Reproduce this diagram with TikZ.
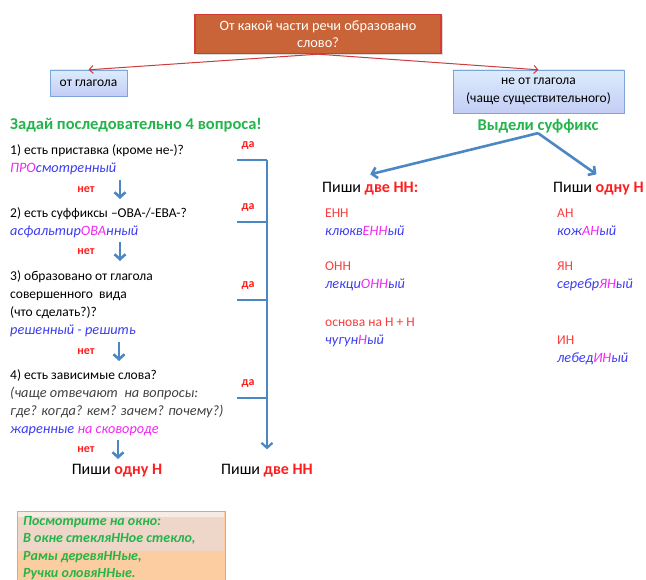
\documentclass[tikz,border=0pt]{standalone}
\usepackage{fontspec}
\setmainfont{Carlito}
\usepackage{xcolor}
\usetikzlibrary{positioning, arrows.meta, shadows}

\definecolor{boxred}{RGB}{200,100,55}
\definecolor{boxedge}{RGB}{210,60,50}
\definecolor{arrred}{RGB}{205,60,60}
\definecolor{skytop}{RGB}{220,236,252}
\definecolor{skybot}{RGB}{195,205,245}
\definecolor{skyedge}{RGB}{125,165,215}
\definecolor{leaf}{RGB}{35,180,75}
\definecolor{steel}{RGB}{75,135,195}
\definecolor{exblue}{RGB}{60,60,240}
\definecolor{exmag}{RGB}{240,40,240}
\definecolor{lab}{RGB}{255,30,30}
\definecolor{sfx}{RGB}{250,60,60}
\definecolor{peach}{RGB}{252,205,160}
\definecolor{peachtop}{RGB}{238,214,200}
\definecolor{peachedge}{RGB}{245,160,100}

\tikzset{
  txt/.style={font=\fontsize{13.5}{18}\selectfont},
  big/.style={font=\fontsize{16}{18}\selectfont},
  head/.style={font=\fontsize{16.5}{18}\selectfont\bfseries, text=leaf},
  lbl/.style={font=\fontsize{12}{13}\selectfont\bfseries, text=lab},
  skybox/.style={draw=skyedge, top color=skytop, bottom color=skybot, align=center, txt},
  redarr/.style={draw=arrred, line width=1pt, -{Straight Barb[length=4pt,width=8pt]}},
  bluearr/.style={draw=steel, line width=2.6pt, -{Straight Barb[length=5pt,width=11pt]}}
}
\newcommand{\ex}[2]{{\fontsize{14.3}{18}\selectfont\itshape\color{exblue}#1\color{exmag}#2}}

\begin{document}
\begin{tikzpicture}[x=1pt, y=-1pt, every node/.style={inner sep=0pt}]
            \useasboundingbox (0,0) rectangle (646,580);

            % top question and the two branches
            \node[draw=boxedge, line width=1.4pt, fill=boxred, text=white, align=center,
                  minimum width=246pt, minimum height=39pt, font=\fontsize{14.3}{17}\selectfont,
                  drop shadow={shadow xshift=1.5pt, shadow yshift=-2pt, opacity=0.3}]
                 (q) at (318,34) {От какой части речи образовано\\слово?};
            \node[skybox, minimum width=77pt, minimum height=26pt] (verb) at (88.5,83) {от глагола};
            \node[skybox, minimum width=171pt, minimum height=43pt] (noverb) at (538.5,91.5)
                 {не от глагола\\(чаще существительного)};
            \draw[redarr] (q.south) -- (verb.north);
            \draw[redarr] (q.south) -- (noverb.north);

            \node[head, anchor=west] (ask) at (10,125) {Задай последовательно 4 вопроса!};
            \node[head] (suf) at (538,126) {Выдели суффикс};

            % left: four questions
            \node[txt, anchor=west, align=left] (q1) at (10,159.5)
                 {1) есть приставка (кроме не-)?\\\ex{}{ПРО}\ex{смотренный}{}};
            \node[txt, anchor=west, align=left] (q2) at (10,223)
                 {2) есть суффиксы –ОВА-/-ЕВА-?\\\ex{асфальтир}{ОВА}\ex{нный}{}};
            \node[txt, anchor=west, align=left] (q3) at (10,303.5)
                 {3) образовано от глагола\\совершенного~ вида\\(что сделать?)?\\\ex{решенный - решить}{}};
            \node[txt, anchor=west, align=left] (q4) at (10,402.5)
                 {4) есть зависимые слова?\\{\fontsize{14.3}{18}\selectfont\itshape\color{black!75}(чаще отвечают~ на вопросы:}\\{\fontsize{14.3}{18}\selectfont\itshape\color{black!75}где? когда? кем? зачем? почему?)}\\\ex{жаренные }{на сковороде}};

            \foreach \y/\x/\n in {180/120/1, 242/120/2, 342/119/3, 440/118/4} {
                \node[lbl] (no\n) at (86,\y+10) {нет};
                \coordinate (a\n) at (\x,\y);
                \coordinate (b\n) at (\x,\y+19);
                \draw[bluearr] (a\n) -- (b\n);
            }

            % bracket of yes-answers
            \foreach \y/\n in {160/1, 222/2, 300/3, 398/4} {
                \node[lbl] (yes\n) at (248,\y-14) {да};
                \coordinate (t\n) at (237,\y);
                \coordinate (v\n) at (267,\y);
                \draw[steel, line width=2.2pt] (t\n) -- (v\n);
            }
            \node[big] (oneL) at (117,471) {Пиши {\bfseries\color{lab}одну Н}};
            \node[big] (twoL) at (267,471) {Пиши {\bfseries\color{lab}две НН}};
            \draw[bluearr, line width=2.2pt, shorten >=15pt] (v1) -- (twoL.north);

            % right: suffixes
            \node[big, anchor=west] (twoR) at (322,189) {Пиши {\bfseries\color{lab}две НН:}};
            \node[big, anchor=west] (oneR) at (553,189) {Пиши {\bfseries\color{lab}одну Н}};
            \draw[bluearr] (suf.south) -- ([yshift=8pt]twoR.north);
            \draw[bluearr] (suf.south) -- ([xshift=-2pt,yshift=8pt]oneR.north);

            \node[txt, anchor=west, align=left] (enn) at (325,222) {\color{sfx}ЕНН\\\ex{клюкв}{ЕНН}\ex{ый}{}};
            \node[txt, anchor=west, align=left] (onn) at (325,276.5) {\color{sfx}ОНН\\\ex{лекци}{ОНН}\ex{ый}{}};
            \node[txt, anchor=west, align=left] (base) at (325,332) {\color{sfx}основа на Н + Н\\\ex{чугун}{Н}\ex{ый}{}};
            \node[txt, anchor=west, align=left] (an) at (557,222) {\color{sfx}АН\\\ex{кож}{АН}\ex{ый}{}};
            \node[txt, anchor=west, align=left] (yan) at (557,276.5) {\color{sfx}ЯН\\\ex{серебр}{ЯН}\ex{ый}{}};
            \node[txt, anchor=west, align=left] (in) at (557,350) {\color{sfx}ИН\\\ex{лебед}{ИН}\ex{ый}{}};

            % the rhyme
            \fill[peach] (17,511) rectangle (225,582);
            \fill[peachtop] (18,517) rectangle (224,551);
            \fill[white!50!peachtop] (18,512) rectangle (224,517);
            \draw[peachedge, line width=1pt] (17,582) -- (17,511) -- (225,511) -- (225,582);
            \node[txt, anchor=west, align=left, text=leaf, font=\fontsize{14}{17.5}\selectfont\bfseries\itshape]
                 (poem) at (23,548) {Посмотрите на окно:\\В окне стекляННое стекло,\\Рамы деревяННые,\\Ручки оловяННые.};
        \end{tikzpicture}
\end{document}
